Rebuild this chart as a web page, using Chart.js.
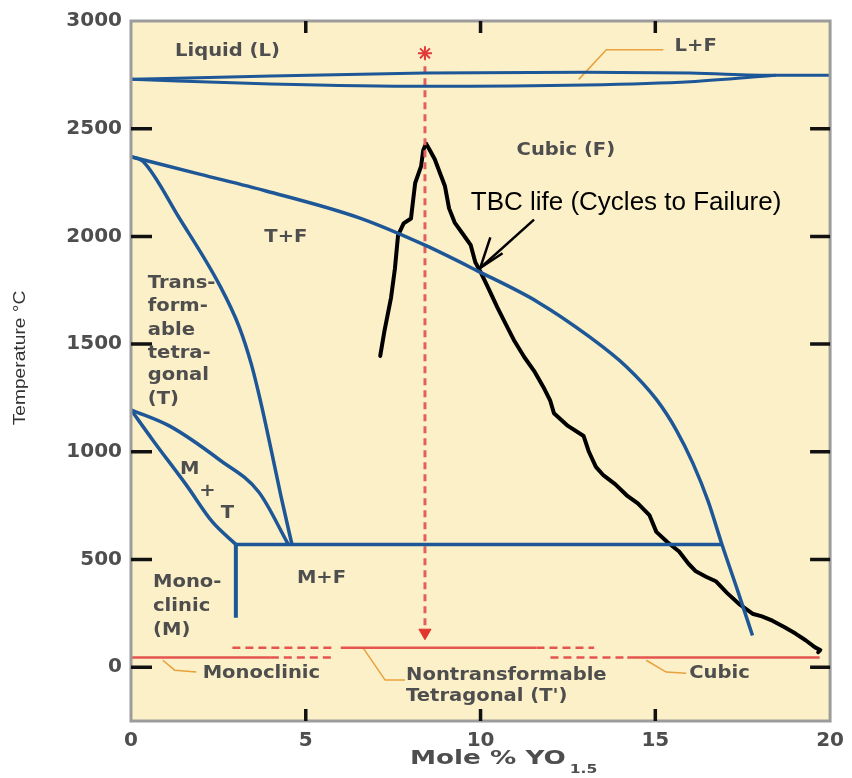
<!DOCTYPE html>
<html lang="en">
<head>
    <meta charset="UTF-8">
    <title>ZrO2 - YO1.5 phase diagram</title>
    <script src="https://cdn.jsdelivr.net/npm/chart.js"></script>
    <style>
        body { margin: 0; background: #fff; }
    </style>
</head>
<body>
    <canvas id="chart" width="852" height="778"></canvas>

    <script>
        // axis ticks
        const xTicks = [0, 5, 10, 15, 20];
        const yTicks = [0, 500, 1000, 1500, 2000, 2500, 3000];

        // liquidus / solidus lens at the top
        const liquidusX = [0, 4, 8.4, 13, 16, 18.44, 20];
        const liquidusT = [2729, 2745, 2758, 2762, 2758, 2748, 2748];
        const solidusX = [0, 4, 8.4, 13, 16, 18.44];
        const solidusT = [2729, 2708, 2697, 2703, 2718, 2748];

        // (T+F) / F boundary
        const cubicX = [0, 1.96, 3.86, 6.51, 8.41, 9.91, 11.62, 13.13, 14.18, 15.03, 15.6, 16.08, 16.51, 16.9, 17.36, 17.78];
        const cubicT = [2370, 2289, 2211, 2087, 1959, 1840, 1697, 1532, 1394, 1243, 1101, 945, 771, 573, 353, 147];

        // T / (T+F) boundary
        const tetraX = [0, 0.34, 1.39, 2.53, 3.10, 3.44, 3.72, 4.01, 4.29, 4.60];
        const tetraT = [2370, 2349, 2083, 1775, 1578, 1408, 1225, 1009, 794, 573];

        // M+T region
        const mtUpperX = [0, 1.11, 2.53, 3.66, 4.5];
        const mtUpperT = [1195, 1119, 963, 812, 570];
        const mtLowerX = [0, 0.62, 1.59, 2.33, 3.0];
        const mtLowerT = [1195, 1055, 844, 674, 570];

        // eutectoid line and monoclinic limit
        const eutectoidX = [3.0, 16.9];
        const eutectoidT = [570, 570];
        const monoLimitX = [3.0, 3.0];
        const monoLimitT = [570, 229];

        // red metastable lines near room temperature
        const redLowT = 45;
        const redHighT = 90;
        const redSolidLow1 = [0, 4.0];
        const redDashLow1 = [4.0, 5.85];
        const redDashHigh1 = [2.9, 5.85];
        const redSolidHigh = [6.0, 11.6];
        const redDashHigh2 = [11.6, 13.25];
        const redDashLow2 = [12.0, 14.2];
        const redSolidLow2 = [14.2, 19.7];

        // red composition marker
        const markerX = 8.41;
        const markerTopT = 2790;
        const markerArrowT = 160;
        const markerStarT = 2850;

        // TBC life curve (hand drawn)
        const tbcX = [7.13, 7.25, 7.44, 7.55, 7.64, 7.80, 8.01, 8.08, 8.13, 8.30, 8.36, 8.44, 8.55, 8.69, 8.85, 8.98,
            9.10, 9.26, 9.50, 9.72, 9.85, 10.0, 10.25, 10.48, 10.70, 10.97, 11.25, 11.53, 11.80, 11.99, 12.10,
            12.50, 12.95, 13.10, 13.30, 13.52, 13.85, 14.18, 14.50, 14.83, 15.03, 15.35, 15.68, 15.95, 16.16,
            16.45, 16.73, 17.05, 17.39, 17.78, 18.05, 18.35, 18.70, 19.01, 19.30, 19.57, 19.72, 19.66];
        const tbcT = [1445, 1560, 1716, 1850, 2005, 2060, 2083, 2180, 2248, 2326, 2400, 2431, 2400, 2358, 2290, 2234,
            2130, 2064, 2010, 1959, 1880, 1835, 1750, 1670, 1600, 1514, 1440, 1376, 1300, 1239, 1179,
            1120, 1073, 1000, 930, 890, 850, 798, 760, 706, 628, 580, 537, 480, 445,
            420, 399, 345, 294, 248, 236, 216, 185, 156, 125, 92, 80, 69];

        // arrow pointing at TBC curve
        const arrowX = [11.53, 9.99];
        const arrowT = [2078, 1853];
        const arrowHeadX = [10.28, 9.99, 10.63];
        const arrowHeadT = [1995, 1853, 1922];

        // orange leader lines
        const leadMonoX = [0.91, 1.25, 1.87];
        const leadMonoT = [32, -14, -23];
        const leadNonX = [6.65, 7.27, 7.84];
        const leadNonT = [87, -60, -60];
        const leadCubicX = [14.74, 15.31, 15.88];
        const leadCubicT = [32, -23, -28];
        const leadLFX = [12.81, 13.6, 15.23];
        const leadLFT = [2729, 2867, 2867];

        // phase labels: text, x, T, align
        const phaseLabels = [
            ['Liquid (L)', 2.76, 2860, 'center'],
            ['L+F', 15.55, 2883, 'left'],
            ['Cubic (F)', 12.44, 2400, 'center'],
            ['T+F', 4.43, 1995, 'center'],
            ['Trans-', 0.48, 1779, 'left'],
            ['form-', 0.48, 1674, 'left'],
            ['able', 0.48, 1564, 'left'],
            ['tetra-', 0.48, 1457, 'left'],
            ['gonal', 0.48, 1352, 'left'],
            ['(T)', 0.48, 1241, 'left'],
            ['M', 1.68, 915, 'center'],
            ['+', 2.19, 814, 'center'],
            ['T', 2.76, 713, 'center'],
            ['M+F', 5.45, 409, 'center'],
            ['Mono-', 0.63, 391, 'left'],
            ['clinic', 0.63, 280, 'left'],
            ['(M)', 0.63, 170, 'left'],
            ['Monoclinic', 2.05, -28, 'left'],
            ['Nontransformable', 7.87, -37, 'left'],
            ['Tetragonal (T\')', 7.87, -138, 'left'],
            ['Cubic', 15.97, -28, 'left']
        ];
        const tbcLabel = ['TBC life (Cycles to Failure)', 9.72, 2156];

        const BLUE = '#1d5797';
        const RED = '#e4554f';
        const ORANGE = '#e8a13c';

        function pts(xs, ys) {
            return xs.map((x, i) => ({ x: x, y: ys[i] }));
        }
        function flat(xs, t) {
            return xs.map(x => ({ x: x, y: t }));
        }
        function line(data, color, width, extra) {
            return Object.assign({
                data: data,
                showLine: true,
                borderColor: color,
                borderWidth: width,
                pointRadius: 0,
                fill: false,
                tension: 0
            }, extra || {});
        }
        const smooth = { cubicInterpolationMode: 'monotone' };

        const datasets = [
            line(pts(liquidusX, liquidusT), BLUE, 3, smooth),
            line(pts(solidusX, solidusT), BLUE, 3, smooth),
            line(pts(cubicX, cubicT), BLUE, 3.5, smooth),
            line(pts(tetraX, tetraT), BLUE, 3.5, smooth),
            line(pts(mtUpperX, mtUpperT), BLUE, 3.5, smooth),
            line(pts(mtLowerX, mtLowerT), BLUE, 3.5, smooth),
            line(pts(eutectoidX, eutectoidT), BLUE, 3.5),
            line(pts(monoLimitX, monoLimitT), BLUE, 4),

            line(flat(redSolidLow1, redLowT), RED, 2.5),
            line(flat(redDashLow1, redLowT), RED, 2.5, { borderDash: [8, 5] }),
            line(flat(redDashHigh1, redHighT), RED, 2.5, { borderDash: [8, 5] }),
            line(flat(redSolidHigh, redHighT), RED, 2.5),
            line(flat(redDashHigh2, redHighT), RED, 2.5, { borderDash: [8, 5] }),
            line(flat(redDashLow2, redLowT), RED, 2.5, { borderDash: [8, 5] }),
            line(flat(redSolidLow2, redLowT), RED, 2.5),

            line([{ x: markerX, y: markerTopT }, { x: markerX, y: markerArrowT + 30 }], '#e35f5f', 3, { borderDash: [7, 5] }),
            {
                data: [{ x: markerX, y: markerArrowT }],
                pointStyle: 'triangle', rotation: 180, pointRadius: 7,
                backgroundColor: '#e0342c', borderColor: '#e0342c', borderWidth: 1
            },
            {
                data: [{ x: markerX, y: markerStarT }],
                pointStyle: 'star', pointRadius: 7,
                backgroundColor: '#e33a3a', borderColor: '#e33a3a', borderWidth: 2
            },

            line(pts(leadMonoX, leadMonoT), ORANGE, 1.5),
            line(pts(leadNonX, leadNonT), ORANGE, 1.5),
            line(pts(leadCubicX, leadCubicT), ORANGE, 1.5),
            line(pts(leadLFX, leadLFT), ORANGE, 1.5),

            line(pts(tbcX, tbcT), '#000', 4, { borderJoinStyle: 'round', borderCapStyle: 'round' }),
            line(pts(arrowX, arrowT), '#000', 2.5),
            line(pts(arrowHeadX, arrowHeadT), '#000', 2.5)
        ];

        function drawText(ctx, s, x, y, font, color, align, sx) {
            ctx.save();
            ctx.font = font;
            ctx.fillStyle = color;
            ctx.textBaseline = 'middle';
            ctx.textAlign = 'left';
            const w = ctx.measureText(s).width * sx;
            let x0 = x;
            if (align === 'center') x0 = x - w / 2;
            if (align === 'right') x0 = x - w;
            ctx.translate(x0, y);
            ctx.scale(sx, 1);
            ctx.fillText(s, 0, 0);
            ctx.restore();
            return x0 + w;
        }

        const decor = {
            id: 'decor',
            beforeDraw(chart) {
                const { ctx, chartArea: a } = chart;
                ctx.save();
                ctx.fillStyle = '#ffffff';
                ctx.fillRect(0, 0, chart.width, chart.height);
                ctx.fillStyle = '#fcf0c8';
                ctx.fillRect(a.left, a.top, a.right - a.left, a.bottom - a.top);
                ctx.restore();
            },
            afterDatasetsDraw(chart) {
                const { ctx, chartArea: a, scales } = chart;
                ctx.save();
                // frame
                ctx.strokeStyle = '#9c9c9c';
                ctx.lineWidth = 3;
                ctx.strokeRect(a.left, a.top, a.right - a.left, a.bottom - a.top);
                // inward tick marks
                ctx.strokeStyle = '#111';
                ctx.lineWidth = 3.5;
                ctx.beginPath();
                yTicks.filter(v => v < 3000).forEach(v => {
                    const py = scales.y.getPixelForValue(v);
                    ctx.moveTo(a.left, py); ctx.lineTo(a.left + 21, py);
                    ctx.moveTo(a.right - 20, py); ctx.lineTo(a.right, py);
                });
                xTicks.filter(v => v > 0 && v < 20).forEach(v => {
                    const px = scales.x.getPixelForValue(v);
                    ctx.moveTo(px, a.bottom); ctx.lineTo(px, a.bottom - 12);
                    ctx.moveTo(px, a.top); ctx.lineTo(px, a.top + 12);
                });
                ctx.stroke();
                ctx.restore();
            },
            afterDraw(chart) {
                const { ctx, scales } = chart;
                const fx = v => scales.x.getPixelForValue(v);
                const fy = v => scales.y.getPixelForValue(v);
                phaseLabels.forEach(l => {
                    drawText(ctx, l[0], fx(l[1]), fy(l[2]), 'bold 17px "DejaVu Sans"', '#4e4e4e', l[3], 1.15);
                });
                drawText(ctx, tbcLabel[0], fx(tbcLabel[1]), fy(tbcLabel[2]), '26px "Liberation Sans"', '#000', 'left', 1.0);

                // x axis title with subscript
                const end = drawText(ctx, 'Mole % YO', 410, 759, 'bold 19px "DejaVu Sans"', '#4e4e4e', 'left', 1.38);
                drawText(ctx, '1.5', end + 4, 770, 'bold 13px "DejaVu Sans"', '#4e4e4e', 'left', 1.2);

                // y axis title
                ctx.save();
                ctx.translate(20, 358);
                ctx.rotate(-Math.PI / 2);
                drawText(ctx, 'Temperature \u00B0C', 0, 0, '17px "Liberation Sans"', '#333', 'center', 1.13);
                ctx.restore();
            }
        };

        const tickFont = { family: 'DejaVu Sans', size: 20, weight: 'bold' };

        new Chart(document.getElementById('chart').getContext('2d'), {
            type: 'scatter',
            data: { datasets: datasets },
            options: {
                responsive: false,
                animation: false,
                layout: { padding: { top: 14, right: 17, left: 0, bottom: 0 } },
                plugins: { legend: { display: false }, tooltip: { enabled: false } },
                scales: {
                    x: {
                        type: 'linear', min: 0, max: 20,
                        afterFit: s => { s.height = 57; },
                        afterBuildTicks: s => { s.ticks = xTicks.map(v => ({ value: v })); },
                        grid: { display: false, drawTicks: false },
                        border: { display: false },
                        ticks: { padding: 8, color: '#4e4e4e', font: tickFont, callback: v => String(v) }
                    },
                    y: {
                        type: 'linear', min: -250, max: 3000,
                        afterFit: s => { s.width = 131; },
                        afterBuildTicks: s => { s.ticks = yTicks.map(v => ({ value: v })); },
                        grid: { display: false, drawTicks: false },
                        border: { display: false },
                        ticks: { padding: 9, color: '#4e4e4e', font: tickFont, callback: v => String(v) }
                    }
                }
            },
            plugins: [decor]
        });
    </script>
</body>
</html>
